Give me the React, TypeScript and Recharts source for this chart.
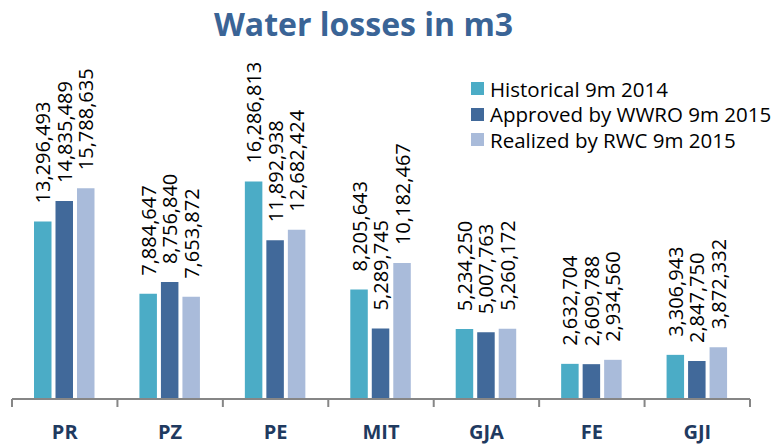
import React from 'react';
import { BarChart, Bar, XAxis, YAxis, LabelList } from 'recharts';

const categories = ['PR', 'PZ', 'PE', 'MIT', 'GJA', 'FE', 'GJI'];
const historical = [13296493, 7884647, 16286813, 8205643, 5234250, 2632704, 3306943];
const approved = [14835489, 8756840, 11892938, 5289745, 5007763, 2609788, 2847750];
const realized = [15788635, 7653872, 12682424, 10182467, 5260172, 2934560, 3872332];

const seriesNames = ['Historical 9m 2014', 'Approved by WWRO 9m 2015', 'Realized by RWC 9m 2015'];
const seriesKeys = ['historical', 'approved', 'realized'];
const colors = ['#4BACC6', '#41699A', '#A9BBDA'];

const data = categories.map((c, i) => ({
  name: c,
  historical: historical[i],
  approved: approved[i],
  realized: realized[i],
}));

const FONT = '"Open Sans", Calibri, sans-serif';
const W = 783;
const H = 446;
const XH = 30;
const margin = { top: 132, right: 33, bottom: 17, left: 12 };
const band = (W - margin.left - margin.right) / categories.length;
const axisY = H - margin.bottom - XH;

const ValueLabel = (props: any) => {
  const { x, y, width, value } = props;
  const cx = x + width / 2;
  const ty = y - 18;
  return (
    <text
      x={cx}
      y={ty}
      transform={`rotate(-90, ${cx}, ${ty})`}
      textAnchor="start"
      dominantBaseline="central"
      fontFamily={FONT}
      fontSize={20}
      fill="#000"
    >
      {Number(value).toLocaleString('en-US')}
    </text>
  );
};

const CatTick = (props: any) => {
  const { x, payload, index } = props;
  const left = x - band / 2;
  const right = x + band / 2;
  return (
    <g>
      <line x1={left} y1={axisY} x2={left} y2={axisY + 8} stroke="#868686" strokeWidth={2} />
      {index === categories.length - 1 && (
        <line x1={right} y1={axisY} x2={right} y2={axisY + 8} stroke="#868686" strokeWidth={2} />
      )}
      <text
        x={x}
        y={axisY + 40}
        textAnchor="middle"
        fontFamily={FONT}
        fontWeight="bold"
        fontSize={20}
        fill="#1F3A60"
      >
        {payload.value}
      </text>
    </g>
  );
};

export default function App() {
  return (
    <div style={{ position: 'absolute', left: 0, top: 0, width: W, height: H, background: '#fff' }}>
      <div
        style={{
          position: 'absolute',
          left: 0,
          width: 727,
          top: 2,
          textAlign: 'center',
          fontFamily: FONT,
          fontWeight: 'bold',
          fontSize: 32,
          color: '#3A6496',
          lineHeight: '44px',
        }}
      >
        Water losses in m3
      </div>
      <div
        style={{
          position: 'absolute',
          left: 471,
          top: 76,
          fontFamily: FONT,
          fontSize: 20.5,
          color: '#000',
        }}
      >
        {seriesNames.map((n, i) => (
          <div key={n} style={{ display: 'flex', alignItems: 'center', height: 25.5 }}>
            <span
              style={{
                display: 'inline-block',
                width: 13,
                height: 13,
                background: colors[i],
                marginRight: 6,
              }}
            />
            <span style={{ whiteSpace: 'nowrap' }}>{n}</span>
          </div>
        ))}
      </div>
      <BarChart width={W} height={H} data={data} margin={margin} barSize={17.5} barGap={4}>
        <XAxis
          dataKey="name"
          height={XH}
          axisLine={{ stroke: '#868686', strokeWidth: 2 }}
          tickLine={false}
          tick={<CatTick />}
          interval={0}
        />
        <YAxis hide domain={[0, 20000000]} />
        {seriesKeys.map((k, i) => (
          <Bar key={k} dataKey={k} name={seriesNames[i]} fill={colors[i]} isAnimationActive={false}>
            <LabelList dataKey={k} content={<ValueLabel />} />
          </Bar>
        ))}
      </BarChart>
    </div>
  );
}
